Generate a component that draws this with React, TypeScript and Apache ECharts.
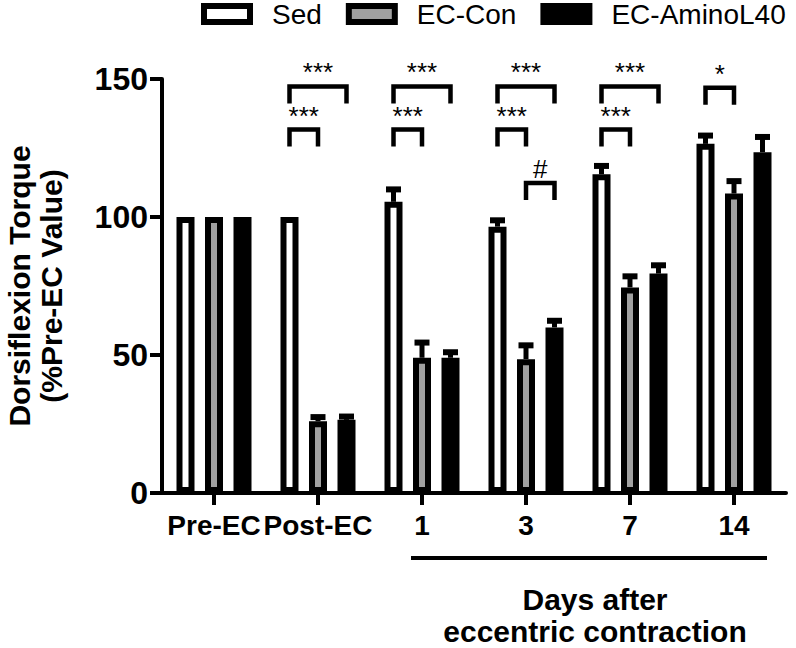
import React, { useEffect, useRef } from 'react';
import * as echarts from 'echarts';

const FONT = 'Liberation Sans, Arial, Helvetica, sans-serif';

const categories = ['Pre-EC', 'Post-EC', '1', '3', '7', '14'];
const seriesNames = ['Sed', 'EC-Con', 'EC-AminoL40'];
const seriesColors = ['#ffffff', '#a0a0a0', '#000000'];

const sedMean = [100, 100, 105.5, 96.5, 115.5, 126.5];
const sedSem = [0, 0, 4.5, 2.3, 3, 3];
const conMean = [100, 26, 49, 48.5, 74.5, 108.5];
const conSem = [0, 1.5, 5.5, 5, 4, 4.5];
const aminoMean = [100, 26.5, 49, 60, 79.5, 123.5];
const aminoSem = [0, 1.2, 2, 2.4, 3, 5.5];

const yMin = 0;
const yMax = 150;
const yInterval = 50;

// significance brackets: category index, from bar, to bar, top level (value), label
const bracketCategory = [1, 1, 2, 2, 3, 3, 3, 4, 4, 5];
const bracketFrom = [0, 0, 0, 0, 0, 0, 1, 0, 0, 0];
const bracketTo = [1, 2, 1, 2, 1, 2, 2, 1, 2, 1];
const bracketLevel = [131.7, 147.3, 131.7, 147.3, 131.7, 147.3, 112.3, 131.7, 147.3, 146.8];
const bracketLabel = ['***', '***', '***', '***', '***', '***', '#', '***', '***', '*'];

const yTitle = 'Dorsiflexion Torque\n(%Pre-EC Value)';
const xGroupTitle = 'Days after\neccentric contraction';

const BAR_W = 18;
const BAR_GAP_PX = 10.5;
const BAR_STEP = BAR_W + BAR_GAP_PX;
const BORDER = 6;
const STEM_W = 5;
const CAP_W = 15;
const CAP_H = 6;
const LEG = 17;

const means = [sedMean, conMean, aminoMean];
const sems = [sedSem, conSem, aminoSem];

function errorSeries(k: number) {
  return {
    type: 'custom',
    z: 3,
    silent: true,
    clip: false,
    data: means[k].map((m, i) => [i, m, m + sems[k][i]]),
    encode: { x: 0, y: [1, 2] },
    renderItem: (params: any, api: any) => {
      const ci = api.value(0);
      const m = api.value(1);
      const hi = api.value(2);
      if (!(hi > m)) return { type: 'group', children: [] };
      const p0 = api.coord([ci, m]);
      const p1 = api.coord([ci, hi]);
      const x = p0[0] + (k - 1) * BAR_STEP;
      return {
        type: 'group',
        children: [
          {
            type: 'rect',
            shape: { x: x - STEM_W / 2, y: p1[1], width: STEM_W, height: p0[1] - p1[1] },
            style: { fill: '#000' },
          },
          {
            type: 'rect',
            shape: { x: x - CAP_W / 2, y: p1[1] - CAP_H / 2, width: CAP_W, height: CAP_H },
            style: { fill: '#000' },
          },
        ],
      };
    },
  };
}

const bracketSeries = {
  type: 'custom',
  z: 4,
  silent: true,
  clip: false,
  data: bracketCategory.map((c, i) => [c, bracketLevel[i]]),
  encode: { x: 0, y: 1 },
  renderItem: (params: any, api: any) => {
    const i = params.dataIndex;
    const p = api.coord([api.value(0), api.value(1)]);
    const xl = p[0] + (bracketFrom[i] - 1) * BAR_STEP;
    const xr = p[0] + (bracketTo[i] - 1) * BAR_STEP;
    const y = p[1];
    return {
      type: 'group',
      children: [
        {
          type: 'polyline',
          shape: { points: [[xl, y + LEG], [xl, y], [xr, y], [xr, y + LEG]] },
          style: { stroke: '#000', lineWidth: 4.5, fill: null, lineJoin: 'miter' },
        },
        {
          type: 'text',
          x: (xl + xr) / 2,
          y: y - 1,
          style: {
            text: bracketLabel[i],
            align: 'center',
            verticalAlign: 'bottom',
            fontSize: 26,
            fontFamily: FONT,
            fill: '#000',
          },
        },
      ],
    };
  },
};

export default function App() {
  const ref = useRef<HTMLDivElement>(null);
  useEffect(() => {
    if (!ref.current) return;
    const chart = echarts.init(ref.current, null, { renderer: 'svg' });
    const option: any = {
      animation: false,
      backgroundColor: '#ffffff',
      textStyle: { fontFamily: FONT },
      legend: {
        data: seriesNames,
        left: 201,
        top: 0,
        padding: 0,
        icon: 'rect',
        itemWidth: 46,
        itemHeight: 16,
        itemGap: 24,
        selectedMode: false,
        itemStyle: { borderWidth: BORDER, borderColor: '#000' },
        textStyle: { fontSize: 28, color: '#000', fontFamily: FONT, padding: [0, 0, 0, 17] },
      },
      grid: {
        left: 162,
        top: 79,
        width: 624,
        height: 414,
        containLabel: false,
        outerBoundsMode: 'none',
      },
      xAxis: {
        type: 'category',
        data: categories,
        axisLine: { show: true, lineStyle: { color: '#000', width: 4 } },
        axisTick: { show: true, alignWithLabel: true, length: 12, lineStyle: { color: '#000', width: 4 } },
        axisLabel: { interval: 0, margin: 18, color: '#000', fontSize: 28, fontWeight: 'bold', fontFamily: FONT },
        splitLine: { show: false },
      },
      yAxis: {
        type: 'value',
        min: yMin,
        max: yMax,
        interval: yInterval,
        name: yTitle,
        nameLocation: 'middle',
        nameRotate: 90,
        nameGap: 95,
        nameTextStyle: { fontSize: 30, fontWeight: 'bold', color: '#000', lineHeight: 32, fontFamily: FONT },
        axisLine: { show: true, lineStyle: { color: '#000', width: 4 } },
        axisTick: { show: true, length: 12, lineStyle: { color: '#000', width: 4 } },
        axisLabel: { margin: 14, color: '#000', fontSize: 32, fontWeight: 'bold', fontFamily: FONT },
        splitLine: { show: false },
      },
      graphic: [
        {
          type: 'line',
          shape: { x1: 411, y1: 558, x2: 767, y2: 558 },
          style: { stroke: '#000', lineWidth: 4 },
        },
        {
          type: 'text',
          x: 595,
          y: 615,
          style: {
            text: xGroupTitle,
            align: 'center',
            verticalAlign: 'middle',
            fontSize: 30,
            fontWeight: 'bold',
            lineHeight: 32,
            fontFamily: FONT,
            fill: '#000',
          },
        },
      ],
      series: [
        ...seriesNames.map((name, k) => ({
          name,
          type: 'bar',
          data: means[k],
          barWidth: BAR_W,
          barGap: (BAR_GAP_PX / BAR_W) * 100 + '%',
          itemStyle: { color: seriesColors[k], borderColor: '#000', borderWidth: BORDER },
          emphasis: { disabled: true },
          z: 2,
        })),
        errorSeries(0),
        errorSeries(1),
        errorSeries(2),
        bracketSeries,
      ],
    };
    chart.setOption(option);
    return () => chart.dispose();
  }, []);
  return (
    <div
      ref={ref}
      style={{ position: 'fixed', left: 0, top: 0, width: 796, height: 648, background: '#fff' }}
    />
  );
}
